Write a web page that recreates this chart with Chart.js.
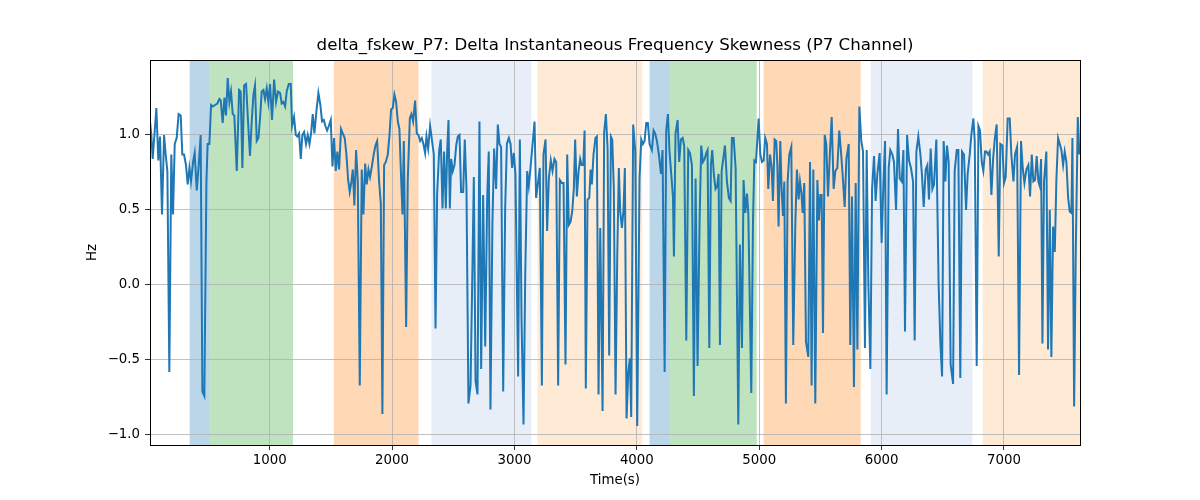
<!DOCTYPE html>
<html lang="en">
<head>
<meta charset="UTF-8">
<title>delta_fskew_P7</title>
<script src="https://cdn.jsdelivr.net/npm/chart.js"></script>
<style>
  body { margin: 0; background: #fff; }
  #wrap { width: 1200px; height: 500px; }
</style>
</head>
<body>
<div id="wrap"><canvas id="chart" width="1200" height="500"></canvas></div>
<script>
// time axis (s)
const timeSec = [
  22,33,44,60,74,90,104,120,137,150,
  164,180,196,210,224,240,256,273,286,300,
  316,330,344,357,374,387,404,420,436,450,
  466,483,493,507,521,537,553,572,589,600,
  616,630,643,657,671,684,698,711,731,750,
  763,777,791,807,823,839,853,867,880,894,
  908,921,935,949,962,976,989,1003,1019,1036,
  1052,1068,1085,1098,1112,1126,1139,1156,1172,1183,
  1199,1213,1226,1240,1254,1267,1281,1297,1311,1325,
  1338,1352,1365,1382,1398,1414,1428,1442,1455,1469,
  1483,1499,1513,1526,1540,1553,1567,1583,1597,1613,
  1627,1641,1654,1668,1679,1692,1706,1720,1736,1752,
  1766,1780,1793,1807,1820,1837,1850,1864,1878,1894,
  1908,1921,1935,1949,1965,1979,1992,2006,2019,2033,
  2047,2060,2074,2085,2096,2115,2128,2145,2158,2172,
  2188,2202,2216,2229,2243,2256,2270,2281,2295,2311,
  2325,2341,2355,2368,2385,2398,2412,2425,2439,2450,
  2461,2472,2483,2496,2510,2524,2537,2551,2564,2581,
  2594,2608,2624,2641,2654,2668,2682,2698,2714,2728,
  2744,2761,2777,2790,2804,2820,2834,2850,2864,2878,
  2891,2908,2924,2938,2954,2968,2981,2995,3008,3030,
  3044,3058,3074,3088,3104,3117,3131,3147,3164,3177,
  3191,3207,3224,3237,3254,3267,3281,3297,3311,3327,
  3341,3357,3371,3387,3401,3417,3431,3444,3458,3472,
  3485,3496,3510,3524,3537,3548,3562,3573,3583,3597,
  3611,3622,3632,3646,3662,3673,3687,3701,3720,3733,
  3747,3761,3774,3788,3799,3812,3826,3840,3853,3864,
  3878,3891,3902,3916,3930,3943,3954,3970,3987,4003,
  4022,4036,4049,4063,4077,4090,4104,4123,4137,4150,
  4164,4180,4197,4210,4227,4240,4254,4267,4281,4295,
  4303,4316,4333,4346,4360,4374,4387,4404,4420,4434,
  4450,4466,4480,4496,4513,4526,4540,4554,4567,4578,
  4592,4605,4616,4630,4643,4657,4668,4679,4693,4706,
  4720,4736,4752,4766,4777,4791,4807,4829,4842,4859,
  4872,4886,4900,4911,4935,4949,4960,4973,4984,4995,
  5009,5022,5036,5049,5063,5074,5088,5101,5112,5126,
  5139,5148,5158,5172,5183,5194,5205,5218,5232,5246,
  5262,5278,5295,5308,5322,5333,5344,5355,5368,5382,
  5401,5415,5428,5442,5458,5475,5488,5499,5510,5521,
  5535,5548,5562,5578,5592,5608,5622,5638,5654,5668,
  5682,5698,5712,5731,5744,5758,5774,5788,5802,5818,
  5834,5848,5864,5878,5892,5908,5922,5938,5951,5965,
  5984,6000,6014,6028,6041,6058,6071,6088,6101,6118,
  6134,6148,6164,6178,6191,6208,6224,6240,6257,6270,
  6284,6300,6317,6330,6344,6360,6374,6387,6401,6415,
  6428,6447,6466,6480,6494,6507,6521,6534,6548,6564,
  6584,6597,6614,6627,6643,6657,6673,6690,6703,6720,
  6733,6750,6761,6777,6791,6804,6818,6831,6845,6856,
  6870,6883,6897,6911,6924,6940,6957,6970,6987,7000,
  7014,7030,7047,7060,7077,7090,7107,7123,7139,7153,
  7167,7183,7199,7213,7227,7240,7254,7267,7281,7292,
  7303,7314,7327,7346,7360,7374,7387,7401,7415,7428,
  7442,7456,7469,7483,7496,7510,7524,7537,7551,7559,
  7573,7586,7603,7616
];

// delta frequency skewness (Hz)
const deltaFskew = [
  1.09,1.00,0.84,1.02,1.18,0.83,0.99,0.47,1.00,0.87,
  0.76,-0.58,0.87,0.47,0.94,0.98,1.14,1.13,0.87,0.87,
  0.80,0.67,0.78,0.69,0.82,0.88,0.63,0.80,1.00,-0.71,
  -0.74,0.69,0.94,0.94,1.20,1.19,1.20,1.21,1.24,1.23,
  1.08,1.25,1.13,1.38,1.22,1.29,1.14,1.13,0.76,1.30,
  1.29,0.78,1.33,1.34,1.09,0.86,1.09,1.27,1.33,0.96,
  0.98,1.11,1.29,1.30,1.24,1.31,1.22,1.34,1.10,1.37,
  1.22,1.29,1.28,1.21,1.22,1.19,1.29,1.34,1.34,1.06,
  1.12,1.00,0.99,1.01,0.84,1.00,1.02,0.94,1.00,0.94,
  1.01,1.14,1.01,1.16,1.28,1.20,1.09,1.10,1.06,1.03,
  1.06,1.10,0.79,0.98,0.76,0.89,0.77,1.04,1.01,0.98,
  0.87,0.70,0.62,0.69,0.77,0.53,0.90,0.69,-0.67,0.77,
  0.47,0.81,0.67,0.77,0.72,0.80,0.87,0.93,0.96,0.69,
  0.54,-0.86,0.80,0.82,0.87,1.00,1.17,1.18,1.27,1.22,
  1.09,1.04,0.71,0.47,0.96,-0.28,0.69,1.11,1.14,1.09,
  1.23,1.01,1.00,0.96,0.98,0.94,0.88,0.99,0.91,1.06,
  0.97,0.87,-0.29,0.60,0.90,0.97,0.51,0.89,0.51,0.89,
  1.10,0.51,0.84,0.76,0.80,0.93,0.99,1.00,0.62,0.62,
  0.97,0.64,-0.79,-0.67,-0.02,0.72,-0.64,-0.73,1.09,-0.56,
  0.60,-0.41,0.58,0.89,-0.83,0.42,0.91,0.64,1.07,0.94,
  0.92,-0.71,0.51,0.94,0.98,0.94,0.78,0.88,0.74,-0.61,
  0.97,-0.24,-0.93,0.07,0.76,0.66,0.78,0.93,1.09,0.58,
  0.67,0.78,-0.67,0.87,0.97,0.36,0.71,0.83,0.76,0.84,
  0.82,-0.67,0.70,0.68,0.68,-0.53,0.87,0.40,0.42,0.49,
  0.64,0.97,0.59,0.76,0.84,0.80,0.80,1.03,-0.69,0.57,
  0.58,0.77,0.67,0.87,0.98,0.99,-0.73,0.38,-0.84,1.02,
  1.14,0.91,-0.47,0.99,0.97,0.64,-0.73,0.20,0.78,0.49,
  0.38,0.50,0.78,-0.89,-0.58,-0.49,-0.88,1.07,0.89,-0.94,
  0.71,0.97,0.94,0.96,1.08,1.08,0.94,0.90,1.03,1.01,
  0.96,0.87,0.74,0.90,-0.58,1.03,1.14,0.89,0.74,0.59,
  0.19,1.01,1.10,0.82,0.97,0.98,0.93,-0.37,0.90,0.88,
  0.80,-0.74,0.71,-0.54,0.44,0.93,0.82,0.84,0.88,0.90,
  -0.42,0.80,0.90,0.73,0.64,0.66,0.74,-0.40,0.76,0.84,
  0.93,0.69,0.58,0.56,0.98,0.98,0.78,-0.93,0.27,-0.42,
  0.70,0.48,0.61,0.47,-0.72,0.42,0.83,0.82,0.96,1.11,
  0.87,0.82,0.83,0.98,0.94,0.64,0.87,0.79,0.56,0.97,
  0.96,0.80,0.39,0.96,0.64,0.46,0.69,-0.79,0.69,0.87,
  0.92,-0.40,0.41,0.77,0.57,0.69,0.62,0.48,0.68,-0.38,
  -0.48,0.82,-0.67,0.77,-0.79,0.70,0.43,0.60,0.60,-0.32,
  1.00,0.94,0.59,0.89,1.12,0.64,0.76,0.78,1.03,0.89,
  0.73,0.52,0.84,0.94,-0.40,0.59,-0.68,0.68,-0.43,1.19,
  0.96,0.89,-0.42,0.90,0.00,-0.56,0.64,0.86,0.56,0.74,
  0.88,0.28,0.66,0.96,-0.73,0.78,0.90,0.87,0.82,0.50,
  1.04,0.71,0.69,0.90,-0.31,1.00,0.83,0.78,0.69,-0.37,
  0.89,0.99,0.87,0.73,0.52,0.77,0.80,0.57,0.91,0.64,
  0.67,0.97,0.00,-0.38,-0.61,0.96,0.69,0.93,0.82,-0.53,
  -0.66,0.76,0.90,0.90,-0.62,0.89,0.87,0.50,0.74,0.87,
  1.00,1.11,0.96,-0.54,1.06,1.03,0.82,0.76,0.89,0.89,
  0.87,0.89,0.60,0.84,0.97,1.07,0.19,0.94,0.93,0.68,
  0.72,1.11,1.11,0.87,0.69,0.87,0.92,-0.60,0.96,0.78,
  0.68,0.77,0.80,0.59,0.87,0.69,0.70,0.86,0.69,0.66,
  0.84,-0.39,0.69,0.89,-0.43,0.50,-0.48,0.39,0.22,0.70,
  0.98,0.94,0.90,0.80,0.89,0.82,0.58,0.49,0.48,0.98,
  -0.81,0.20,1.12,0.87
];

// shaded time windows (s) and their kind
const spanStart = [346, 504, 1524, 2322, 3188, 4104, 4270, 5036, 5911, 6826];
const spanEnd   = [504, 1191, 2216, 3139, 4044, 4270, 4979, 5829, 6742, 7700];
const spanKind  = ['blue', 'green', 'orange', 'lightblue', 'lightorange',
                   'blue', 'green', 'orange', 'lightblue', 'lightorange'];

const xTicks = [1000, 2000, 3000, 4000, 5000, 6000, 7000];
const yTicks = [-1.0, -0.5, 0.0, 0.5, 1.0];

const chartTitle = 'delta_fskew_P7: Delta Instantaneous Frequency Skewness (P7 Channel)';

const spanColors = {
  blue: 'rgba(31,119,180,0.3)',
  green: 'rgba(44,160,44,0.3)',
  orange: 'rgba(255,127,14,0.3)',
  lightblue: 'rgba(174,199,232,0.3)',
  lightorange: 'rgba(255,187,120,0.3)'
};

const FONT = "'DejaVu Sans', sans-serif";

// shaded windows behind the grid
const spansPlugin = {
  id: 'spans',
  beforeDraw(chart) {
    const { ctx, chartArea: a, scales: { x } } = chart;
    ctx.save();
    ctx.beginPath();
    ctx.rect(a.left, a.top, a.right - a.left, a.bottom - a.top);
    ctx.clip();
    for (let i = 0; i < spanStart.length; i++) {
      const x0 = x.getPixelForValue(spanStart[i]);
      const x1 = x.getPixelForValue(spanEnd[i]);
      ctx.fillStyle = spanColors[spanKind[i]];
      ctx.fillRect(x0, a.top, x1 - x0, a.bottom - a.top);
    }
    ctx.restore();
  }
};

// black frame like matplotlib spines + title centred over the axes
const framePlugin = {
  id: 'frame',
  afterDraw(chart) {
    const { ctx, chartArea: a } = chart;
    ctx.save();
    ctx.strokeStyle = '#000';
    ctx.lineWidth = 1;
    ctx.strokeRect(Math.round(a.left) + 0.5, Math.round(a.top) + 0.5,
      Math.round(a.right - a.left), Math.round(a.bottom - a.top));
    ctx.fillStyle = '#000';
    ctx.font = "16.67px " + FONT;
    ctx.textAlign = 'center';
    ctx.textBaseline = 'middle';
    ctx.fillText(chartTitle, (a.left + a.right) / 2, a.top - 14);
    ctx.restore();
  }
};

const fmtY = v => (v < 0 ? '\u2212' + Math.abs(v).toFixed(1) : v.toFixed(1));

new Chart(document.getElementById('chart'), {
  type: 'line',
  data: {
    datasets: [{
      data: timeSec.map((t, i) => ({ x: t, y: deltaFskew[i] })),
      borderColor: '#1f77b4',
      borderWidth: 2,
      pointRadius: 0,
      tension: 0,
      fill: false
    }]
  },
  options: {
    responsive: false,
    animation: false,
    layout: { padding: { left: 0, right: 120, top: 60, bottom: 0 } },
    plugins: {
      legend: { display: false },
      tooltip: { enabled: false },
      title: { display: false }
    },
    scales: {
      x: {
        type: 'linear',
        min: 22,
        max: 7621,
        afterBuildTicks: s => { s.ticks = xTicks.map(v => ({ value: v })); },
        afterFit: s => { s.height = 55; },
        grid: { color: '#b0b0b0', lineWidth: 0.8, tickColor: '#000', tickLength: 5, drawTicks: true },
        border: { display: false },
        ticks: { color: '#000', font: { family: FONT, size: 13.33 }, padding: 3, maxRotation: 0,
                 callback: v => String(v) },
        title: { display: true, text: 'Time(s)', color: '#000',
                 font: { family: FONT, size: 13.33 }, padding: { top: 0, bottom: 11 } }
      },
      y: {
        min: -1.067,
        max: 1.5,
        afterBuildTicks: s => { s.ticks = yTicks.map(v => ({ value: v })); },
        afterFit: s => { s.width = 150; },
        grid: { color: '#b0b0b0', lineWidth: 0.8, tickColor: '#000', tickLength: 5, drawTicks: true },
        border: { display: false },
        ticks: { color: '#000', font: { family: FONT, size: 13.33 }, padding: 5, callback: v => fmtY(v) },
        title: { display: true, text: 'Hz', color: '#000',
                 font: { family: FONT, size: 13.33 }, padding: { top: 85, bottom: 0 } }
      }
    }
  },
  plugins: [spansPlugin, framePlugin]
});
</script>
</body>
</html>
